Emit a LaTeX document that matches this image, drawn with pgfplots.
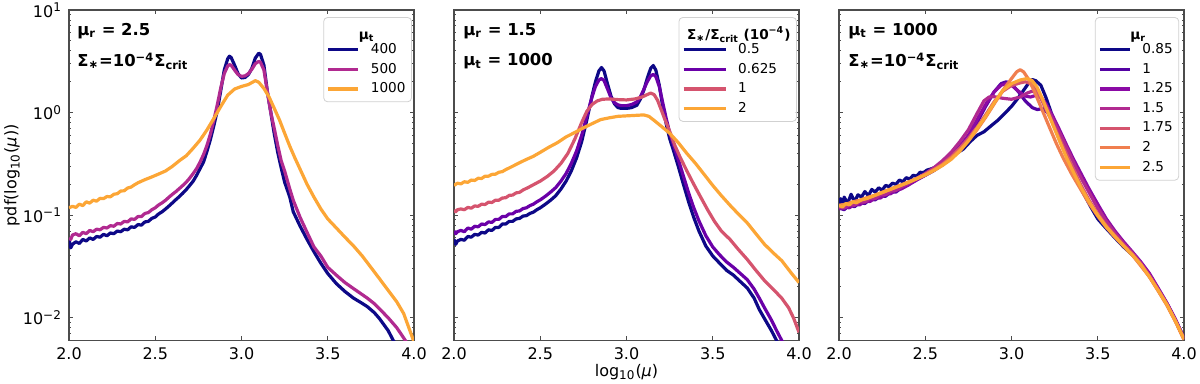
\documentclass[border=0pt]{standalone}
\usepackage{pgfplots}
\pgfplotsset{compat=1.18}
\usetikzlibrary{calc}
\usepackage{fontspec}
\setmainfont{DejaVu Sans}

\definecolor{c0}{HTML}{0D0887}
\definecolor{c500}{HTML}{B12A90}
\definecolor{corange}{HTML}{FCA636}
\definecolor{cpurp}{HTML}{6A00A8}
\definecolor{cpink}{HTML}{D5546E}
\definecolor{p1}{HTML}{5402A3}
\definecolor{p2}{HTML}{8B0AA5}
\definecolor{p3}{HTML}{B12A90}
\definecolor{p4}{HTML}{D5546E}
\definecolor{p5}{HTML}{F07F4F}
\definecolor{p6}{HTML}{FCA636}

\newcommand{\ent}[1]{\hspace*{4pt}#1}

\pgfplotsset{
  pdfpanel/.style={
    scale only axis, width=172.5pt, height=165.3pt,
    xmin=2, xmax=4, ymin=0.00597, ymax=10,
    xtick={2,2.5,3,3.5,4}, xticklabels={2.0,2.5,3.0,3.5,4.0},
    ytick={0.01,0.1,1,10},
    minor ytick={0.006,0.007,0.008,0.009,0.02,0.03,0.04,0.05,0.06,0.07,0.08,0.09,
                 0.2,0.3,0.4,0.5,0.6,0.7,0.8,0.9,2,3,4,5,6,7,8,9},
    tick align=inside, xtick pos=both, ytick pos=both,
    major tick length=2.2pt, minor tick length=1.2pt,
    tick style={black!70, line width=0.5pt},
    axis line style={black!70, line width=0.6pt},
    ticklabel style={font=\fontsize{8}{9}\selectfont},
    label style={font=\fontsize{8}{9}\selectfont},
    no markers,
    every axis plot/.append style={line width=1.6pt, line join=round},
    legend cell align=left,
    legend image code/.code={\draw[##1] (0pt,0pt) -- (15pt,0pt);},
    legend style={anchor=north east, draw=black!18, rounded corners=2pt,
      fill=white, fill opacity=0.8, text opacity=1,
      font=\fontsize{6.8}{8}\selectfont, inner xsep=1.5pt, inner ysep=1.5pt,
      nodes={inner sep=1.5pt, text height=5.2pt, text depth=1.6pt}, row sep=0pt},
  },
  padimg/.style={
    legend image code/.code={\draw[##1] (0pt,0pt) -- (15pt,0pt); \path (-6pt,0pt) -- (15pt,0pt);}},
}
\tikzset{note/.style={anchor=west, inner sep=0pt, font=\fontsize{8.2}{9}\selectfont\bfseries}}

\begin{document}
\begin{tikzpicture}
\useasboundingbox (0,0) rectangle (600pt,192pt);

% ---------- panel 1: mu_t ----------
\begin{semilogyaxis}[pdfpanel, at={(34.5pt,21.65pt)}, anchor=south west,
  yticklabels={10\textsuperscript{−2},10\textsuperscript{−1},10\textsuperscript{0},10\textsuperscript{1}},
  ylabel={pdf(log\textsubscript{10}(\textit{μ}))},
  ylabel style={at={($(rel axis cs:0,0.5)+(-28.5pt,0pt)$)}, anchor=center},
  legend style={at={(0.994,0.979)}}]
\addlegendimage{empty legend}
\addlegendentry{\hspace*{-2pt}\raisebox{-3pt}{\textbf{μ\textsubscript{t}}}}
\addplot[c0] coordinates {(2.00,0.058)(2.01,0.048)(2.02,0.052)(2.04,0.055)(2.06,0.053)(2.08,0.058)(2.10,0.056)(2.12,0.060)(2.14,0.058)(2.16,0.062)(2.18,0.061)(2.20,0.065)(2.22,0.063)(2.24,0.067)(2.26,0.066)(2.28,0.070)(2.30,0.069)(2.32,0.073)(2.34,0.072)(2.36,0.077)(2.38,0.076)(2.40,0.081)(2.42,0.080)(2.44,0.086)(2.46,0.087)(2.48,0.093)(2.50,0.096)(2.52,0.103)(2.54,0.108)(2.56,0.115)(2.58,0.123)(2.60,0.132)(2.62,0.142)(2.64,0.152)(2.66,0.164)(2.68,0.178)(2.70,0.195)(2.72,0.215)(2.74,0.245)(2.76,0.285)(2.78,0.33)(2.80,0.42)(2.82,0.55)(2.84,0.75)(2.86,1.05)(2.88,1.65)(2.90,2.6)(2.92,3.35)(2.93,3.55)(2.94,3.45)(2.96,2.9)(2.98,2.4)(3.00,2.18)(3.02,2.2)(3.04,2.35)(3.06,2.7)(3.08,3.4)(3.10,3.8)(3.11,3.7)(3.13,2.9)(3.15,1.6)(3.17,1.0)(3.19,0.62)(3.21,0.41)(3.23,0.29)(3.25,0.21)(3.28,0.15)(3.30,0.108)(3.34,0.078)(3.38,0.058)(3.42,0.044)(3.46,0.034)(3.50,0.027)(3.55,0.0215)(3.60,0.018)(3.65,0.0155)(3.70,0.0138)(3.73,0.0128)(3.77,0.0112)(3.80,0.0098)(3.85,0.0075)(3.88,0.006)(3.92,0.0048)};
\addlegendentry{\ent{400}}
\addplot[c500] coordinates {(2.00,0.060)(2.01,0.058)(2.02,0.064)(2.04,0.066)(2.06,0.063)(2.08,0.068)(2.10,0.066)(2.12,0.071)(2.14,0.069)(2.16,0.073)(2.18,0.072)(2.20,0.076)(2.22,0.075)(2.24,0.079)(2.26,0.078)(2.28,0.083)(2.30,0.082)(2.32,0.087)(2.34,0.086)(2.36,0.092)(2.38,0.091)(2.40,0.097)(2.42,0.097)(2.44,0.104)(2.46,0.106)(2.48,0.113)(2.50,0.118)(2.52,0.126)(2.54,0.132)(2.56,0.140)(2.58,0.150)(2.60,0.160)(2.62,0.170)(2.64,0.182)(2.66,0.195)(2.68,0.21)(2.70,0.23)(2.72,0.255)(2.74,0.285)(2.76,0.33)(2.78,0.39)(2.80,0.48)(2.82,0.62)(2.84,0.85)(2.86,1.2)(2.88,1.75)(2.90,2.4)(2.92,2.85)(2.93,2.94)(2.94,2.9)(2.96,2.6)(2.98,2.35)(3.00,2.26)(3.02,2.28)(3.04,2.4)(3.06,2.65)(3.08,3.0)(3.10,3.16)(3.11,3.1)(3.13,2.6)(3.15,1.6)(3.17,1.0)(3.19,0.7)(3.21,0.48)(3.23,0.34)(3.25,0.27)(3.28,0.18)(3.30,0.14)(3.34,0.095)(3.38,0.068)(3.42,0.049)(3.46,0.040)(3.50,0.031)(3.55,0.026)(3.60,0.022)(3.65,0.0192)(3.70,0.0168)(3.73,0.0155)(3.77,0.0137)(3.80,0.0122)(3.85,0.0100)(3.90,0.0080)(3.95,0.0060)(3.98,0.005)};
\addlegendentry{\ent{500}}
\addplot[corange] coordinates {(2.00,0.118)(2.02,0.122)(2.04,0.119)(2.06,0.128)(2.08,0.124)(2.10,0.135)(2.12,0.131)(2.14,0.140)(2.16,0.137)(2.18,0.146)(2.20,0.145)(2.22,0.152)(2.24,0.151)(2.26,0.160)(2.28,0.162)(2.30,0.172)(2.32,0.173)(2.34,0.184)(2.36,0.188)(2.38,0.198)(2.40,0.207)(2.44,0.222)(2.48,0.236)(2.52,0.252)(2.56,0.27)(2.60,0.30)(2.64,0.34)(2.68,0.38)(2.72,0.45)(2.76,0.54)(2.80,0.68)(2.84,0.88)(2.88,1.15)(2.92,1.48)(2.96,1.70)(3.00,1.80)(3.04,1.88)(3.08,2.05)(3.10,1.98)(3.13,1.72)(3.16,1.42)(3.19,1.10)(3.22,0.85)(3.25,0.63)(3.28,0.47)(3.31,0.36)(3.34,0.28)(3.38,0.2)(3.42,0.15)(3.46,0.115)(3.50,0.092)(3.55,0.075)(3.60,0.061)(3.65,0.050)(3.70,0.040)(3.75,0.031)(3.80,0.024)(3.85,0.0185)(3.90,0.0143)(3.94,0.011)(3.97,0.008)(4.00,0.0058)};
\addlegendentry{\ent{1000}}
\node[note] at (rel axis cs:0.023,0.937) {μ\textsubscript{r} = 2.5};
\node[note] at (rel axis cs:0.023,0.845) {Σ\textsubscript{∗}=10\textsuperscript{−4}Σ\textsubscript{crit}};
\end{semilogyaxis}

% ---------- panel 2: Sigma ----------
\begin{semilogyaxis}[pdfpanel, padimg, at={(227pt,21.65pt)}, anchor=south west,
  yticklabels={},
  xlabel={log\textsubscript{10}(\textit{μ})},
  xlabel style={at={($(rel axis cs:0.5,0)+(0pt,-15.6pt)$)}, anchor=center},
  legend style={at={(0.994,0.979)}}]
\addlegendimage{empty legend}
\addlegendentry{\hspace*{-21.5pt}\raisebox{-3pt}{\textbf{Σ\textsubscript{∗}/Σ\textsubscript{crit} (10\textsuperscript{−4})}}}
\addplot[c0] coordinates {(2.00,0.058)(2.01,0.052)(2.02,0.056)(2.04,0.058)(2.06,0.057)(2.08,0.062)(2.10,0.061)(2.12,0.065)(2.14,0.064)(2.16,0.068)(2.18,0.067)(2.20,0.072)(2.22,0.071)(2.24,0.076)(2.26,0.076)(2.28,0.082)(2.30,0.082)(2.32,0.087)(2.34,0.087)(2.36,0.092)(2.38,0.093)(2.40,0.098)(2.42,0.099)(2.44,0.104)(2.46,0.107)(2.48,0.113)(2.50,0.118)(2.53,0.128)(2.56,0.140)(2.59,0.155)(2.62,0.18)(2.65,0.215)(2.68,0.27)(2.71,0.36)(2.74,0.52)(2.77,0.85)(2.80,1.45)(2.82,2.0)(2.84,2.55)(2.855,2.75)(2.87,2.55)(2.89,1.9)(2.91,1.45)(2.93,1.22)(2.95,1.12)(2.97,1.1)(3.00,1.1)(3.03,1.12)(3.06,1.18)(3.08,1.35)(3.10,1.65)(3.12,2.15)(3.14,2.7)(3.155,2.88)(3.17,2.6)(3.19,1.85)(3.21,1.15)(3.23,0.78)(3.25,0.56)(3.27,0.44)(3.30,0.30)(3.33,0.20)(3.36,0.135)(3.39,0.095)(3.42,0.070)(3.46,0.050)(3.50,0.040)(3.54,0.034)(3.58,0.029)(3.62,0.026)(3.66,0.0225)(3.70,0.0195)(3.74,0.0155)(3.77,0.012)(3.80,0.0098)(3.84,0.0075)(3.87,0.006)(3.90,0.0049)};
\addlegendentry{\ent{0.5}}
\addplot[cpurp] coordinates {(2.00,0.070)(2.01,0.066)(2.02,0.069)(2.04,0.071)(2.06,0.069)(2.08,0.075)(2.10,0.073)(2.12,0.078)(2.14,0.077)(2.16,0.082)(2.18,0.081)(2.20,0.086)(2.22,0.085)(2.24,0.091)(2.26,0.091)(2.28,0.097)(2.30,0.097)(2.32,0.103)(2.34,0.103)(2.36,0.109)(2.38,0.110)(2.40,0.116)(2.42,0.118)(2.44,0.124)(2.46,0.128)(2.48,0.135)(2.50,0.141)(2.53,0.153)(2.56,0.168)(2.59,0.186)(2.62,0.215)(2.65,0.255)(2.68,0.32)(2.71,0.42)(2.74,0.60)(2.77,0.92)(2.80,1.42)(2.82,1.8)(2.84,2.08)(2.855,2.15)(2.87,2.05)(2.89,1.7)(2.91,1.4)(2.93,1.25)(2.95,1.19)(2.97,1.17)(3.00,1.17)(3.03,1.2)(3.06,1.27)(3.08,1.42)(3.10,1.68)(3.12,2.0)(3.14,2.28)(3.155,2.36)(3.17,2.25)(3.19,1.8)(3.21,1.25)(3.23,0.88)(3.25,0.64)(3.27,0.5)(3.30,0.35)(3.33,0.24)(3.36,0.165)(3.39,0.118)(3.42,0.088)(3.46,0.063)(3.50,0.049)(3.54,0.041)(3.58,0.035)(3.62,0.031)(3.66,0.027)(3.70,0.0235)(3.74,0.019)(3.77,0.0155)(3.80,0.0125)(3.84,0.0095)(3.87,0.0075)(3.90,0.006)(3.93,0.0048)};
\addlegendentry{\ent{0.625}}
\addplot[cpink] coordinates {(2.00,0.112)(2.01,0.108)(2.02,0.113)(2.04,0.115)(2.06,0.113)(2.08,0.119)(2.10,0.117)(2.12,0.123)(2.14,0.122)(2.16,0.128)(2.18,0.127)(2.20,0.134)(2.22,0.133)(2.24,0.140)(2.26,0.140)(2.28,0.147)(2.30,0.148)(2.32,0.156)(2.34,0.157)(2.36,0.165)(2.38,0.167)(2.40,0.176)(2.43,0.186)(2.46,0.198)(2.50,0.215)(2.54,0.238)(2.58,0.27)(2.62,0.32)(2.66,0.40)(2.70,0.55)(2.74,0.80)(2.77,1.03)(2.80,1.2)(2.83,1.30)(2.86,1.35)(2.90,1.36)(2.95,1.34)(3.00,1.33)(3.05,1.36)(3.09,1.42)(3.12,1.50)(3.14,1.55)(3.16,1.50)(3.18,1.32)(3.20,1.08)(3.22,0.88)(3.25,0.66)(3.28,0.48)(3.31,0.37)(3.35,0.27)(3.39,0.20)(3.43,0.15)(3.47,0.113)(3.51,0.087)(3.55,0.07)(3.60,0.058)(3.65,0.046)(3.70,0.037)(3.75,0.029)(3.80,0.023)(3.85,0.019)(3.90,0.0155)(3.94,0.0125)(3.97,0.0098)(4.00,0.0072)};
\addlegendentry{\ent{1}}
\addplot[corange] coordinates {(2.00,0.195)(2.02,0.205)(2.04,0.202)(2.06,0.212)(2.08,0.209)(2.10,0.220)(2.12,0.218)(2.14,0.229)(2.16,0.228)(2.18,0.240)(2.20,0.240)(2.22,0.250)(2.24,0.251)(2.26,0.262)(2.28,0.266)(2.30,0.278)(2.34,0.30)(2.38,0.325)(2.42,0.35)(2.46,0.375)(2.50,0.41)(2.55,0.46)(2.60,0.51)(2.65,0.58)(2.70,0.64)(2.75,0.71)(2.80,0.78)(2.85,0.855)(2.90,0.89)(2.95,0.92)(3.00,0.93)(3.05,0.94)(3.10,0.95)(3.13,0.92)(3.16,0.84)(3.20,0.74)(3.25,0.63)(3.30,0.51)(3.35,0.40)(3.40,0.32)(3.45,0.25)(3.50,0.195)(3.55,0.155)(3.60,0.125)(3.65,0.102)(3.70,0.084)(3.75,0.066)(3.80,0.052)(3.85,0.043)(3.90,0.036)(3.95,0.028)(4.00,0.022)};
\addlegendentry{\ent{2}}
\node[note] at (rel axis cs:0.026,0.937) {μ\textsubscript{r} = 1.5};
\node[note] at (rel axis cs:0.026,0.845) {μ\textsubscript{t} = 1000};
\end{semilogyaxis}

% ---------- panel 3: mu_r ----------
\begin{semilogyaxis}[pdfpanel, at={(419.5pt,21.65pt)}, anchor=south west,
  yticklabels={},
  legend style={at={(0.986,0.979)}}]
\addlegendimage{empty legend}
\addlegendentry{\hspace*{-2pt}\raisebox{-3pt}{\textbf{μ\textsubscript{r}}}}
\addplot[c0] coordinates {(2.00,0.13)(2.01,0.145)(2.02,0.118)(2.03,0.15)(2.05,0.13)(2.07,0.16)(2.09,0.135)(2.11,0.158)(2.13,0.15)(2.15,0.17)(2.17,0.155)(2.19,0.178)(2.21,0.168)(2.23,0.185)(2.25,0.175)(2.27,0.195)(2.29,0.19)(2.31,0.205)(2.33,0.2)(2.35,0.22)(2.37,0.212)(2.39,0.232)(2.41,0.225)(2.43,0.245)(2.45,0.24)(2.47,0.262)(2.49,0.26)(2.51,0.275)(2.54,0.285)(2.57,0.30)(2.60,0.32)(2.64,0.36)(2.68,0.40)(2.72,0.44)(2.76,0.52)(2.80,0.60)(2.84,0.65)(2.88,0.74)(2.92,0.84)(2.96,0.98)(3.00,1.15)(3.04,1.40)(3.07,1.65)(3.10,1.95)(3.12,2.1)(3.14,2.05)(3.17,1.85)(3.20,1.4)(3.23,1.0)(3.26,0.72)(3.30,0.47)(3.34,0.31)(3.38,0.22)(3.42,0.16)(3.46,0.12)(3.50,0.092)(3.55,0.074)(3.60,0.060)(3.65,0.049)(3.70,0.041)(3.75,0.033)(3.80,0.026)(3.85,0.019)(3.90,0.0138)(3.95,0.0095)(4.00,0.0064)};
\addlegendentry{\ent{0.85}}
\addplot[p1] coordinates {(2.00,0.118)(2.03,0.113)(2.06,0.126)(2.09,0.121)(2.12,0.133)(2.15,0.130)(2.18,0.143)(2.21,0.141)(2.24,0.154)(2.27,0.153)(2.30,0.168)(2.33,0.168)(2.36,0.184)(2.40,0.197)(2.45,0.222)(2.50,0.245)(2.55,0.272)(2.60,0.31)(2.65,0.37)(2.70,0.45)(2.75,0.58)(2.80,0.8)(2.85,1.15)(2.90,1.6)(2.94,1.92)(2.97,2.0)(3.00,1.9)(3.04,1.6)(3.08,1.3)(3.12,1.12)(3.15,1.07)(3.18,1.1)(3.21,1.0)(3.25,0.8)(3.29,0.59)(3.33,0.43)(3.37,0.31)(3.41,0.23)(3.46,0.163)(3.50,0.122)(3.55,0.088)(3.60,0.068)(3.65,0.054)(3.70,0.043)(3.75,0.034)(3.80,0.026)(3.85,0.019)(3.90,0.0138)(3.95,0.0095)(4.00,0.0062)};
\addlegendentry{\ent{1}}
\addplot[p2] coordinates {(2.00,0.115)(2.03,0.120)(2.06,0.118)(2.09,0.128)(2.12,0.126)(2.15,0.137)(2.18,0.136)(2.21,0.148)(2.24,0.147)(2.27,0.160)(2.30,0.162)(2.33,0.176)(2.36,0.180)(2.40,0.196)(2.45,0.22)(2.50,0.245)(2.55,0.275)(2.60,0.315)(2.65,0.38)(2.70,0.47)(2.75,0.6)(2.80,0.85)(2.85,1.2)(2.90,1.6)(2.94,1.85)(2.97,1.92)(3.00,1.85)(3.04,1.62)(3.08,1.45)(3.11,1.42)(3.14,1.47)(3.17,1.42)(3.20,1.22)(3.24,0.92)(3.28,0.67)(3.32,0.48)(3.36,0.35)(3.40,0.26)(3.45,0.18)(3.50,0.128)(3.55,0.092)(3.60,0.07)(3.65,0.055)(3.70,0.044)(3.75,0.035)(3.80,0.027)(3.85,0.0195)(3.90,0.014)(3.95,0.0097)(4.00,0.0063)};
\addlegendentry{\ent{1.25}}
\addplot[p3] coordinates {(2.00,0.12)(2.03,0.117)(2.06,0.127)(2.09,0.125)(2.12,0.135)(2.15,0.134)(2.18,0.146)(2.21,0.145)(2.24,0.158)(2.27,0.158)(2.30,0.172)(2.33,0.174)(2.36,0.188)(2.40,0.203)(2.45,0.228)(2.50,0.255)(2.55,0.29)(2.60,0.34)(2.65,0.41)(2.70,0.52)(2.75,0.68)(2.80,0.98)(2.84,1.3)(2.87,1.42)(2.90,1.43)(2.95,1.38)(3.00,1.35)(3.05,1.42)(3.09,1.55)(3.12,1.62)(3.15,1.55)(3.18,1.35)(3.21,1.08)(3.25,0.8)(3.29,0.58)(3.33,0.42)(3.37,0.3)(3.41,0.22)(3.46,0.155)(3.50,0.117)(3.55,0.087)(3.60,0.067)(3.65,0.053)(3.70,0.043)(3.75,0.034)(3.80,0.026)(3.85,0.019)(3.90,0.0138)(3.95,0.0095)(4.00,0.0062)};
\addlegendentry{\ent{1.5}}
\addplot[p4] coordinates {(2.00,0.122)(2.04,0.127)(2.08,0.133)(2.12,0.139)(2.16,0.146)(2.20,0.154)(2.25,0.166)(2.30,0.179)(2.35,0.193)(2.40,0.209)(2.45,0.228)(2.50,0.25)(2.55,0.278)(2.60,0.315)(2.65,0.37)(2.70,0.45)(2.75,0.56)(2.80,0.72)(2.85,0.95)(2.90,1.28)(2.95,1.62)(3.00,1.84)(3.05,1.95)(3.08,2.0)(3.11,1.92)(3.14,1.7)(3.17,1.38)(3.20,1.08)(3.24,0.78)(3.28,0.55)(3.32,0.39)(3.36,0.28)(3.40,0.2)(3.45,0.14)(3.50,0.103)(3.55,0.079)(3.60,0.063)(3.65,0.051)(3.70,0.042)(3.75,0.033)(3.80,0.025)(3.85,0.0185)(3.90,0.0135)(3.95,0.0093)(4.00,0.0062)};
\addlegendentry{\ent{1.75}}
\addplot[p5] coordinates {(2.00,0.125)(2.04,0.128)(2.08,0.135)(2.12,0.140)(2.16,0.148)(2.20,0.155)(2.25,0.167)(2.30,0.180)(2.35,0.194)(2.40,0.210)(2.45,0.228)(2.50,0.25)(2.55,0.277)(2.60,0.31)(2.65,0.36)(2.70,0.43)(2.75,0.53)(2.80,0.68)(2.85,0.9)(2.90,1.22)(2.95,1.65)(3.00,2.15)(3.03,2.5)(3.05,2.62)(3.07,2.5)(3.10,2.1)(3.13,1.65)(3.16,1.25)(3.19,0.95)(3.22,0.72)(3.26,0.5)(3.30,0.36)(3.35,0.25)(3.40,0.18)(3.45,0.13)(3.50,0.098)(3.55,0.076)(3.60,0.061)(3.65,0.05)(3.70,0.041)(3.75,0.032)(3.80,0.025)(3.85,0.0183)(3.90,0.0133)(3.95,0.0092)(4.00,0.0061)};
\addlegendentry{\ent{2}}
\addplot[p6] coordinates {(2.00,0.125)(2.02,0.12)(2.04,0.13)(2.06,0.126)(2.08,0.135)(2.10,0.132)(2.13,0.141)(2.16,0.145)(2.20,0.154)(2.25,0.166)(2.30,0.179)(2.35,0.193)(2.40,0.208)(2.45,0.226)(2.50,0.246)(2.55,0.272)(2.60,0.305)(2.65,0.35)(2.70,0.42)(2.75,0.53)(2.80,0.70)(2.85,0.92)(2.90,1.25)(2.95,1.65)(3.00,1.92)(3.05,2.08)(3.09,2.15)(3.12,2.05)(3.15,1.75)(3.18,1.35)(3.21,1.02)(3.24,0.76)(3.28,0.52)(3.32,0.36)(3.36,0.26)(3.40,0.19)(3.45,0.135)(3.50,0.10)(3.55,0.077)(3.60,0.062)(3.65,0.05)(3.70,0.041)(3.75,0.033)(3.80,0.025)(3.85,0.0185)(3.90,0.0135)(3.95,0.0093)(4.00,0.0062)};
\addlegendentry{\ent{2.5}}
\node[note] at (rel axis cs:0.026,0.937) {μ\textsubscript{t} = 1000};
\node[note] at (rel axis cs:0.026,0.845) {Σ\textsubscript{∗}=10\textsuperscript{−4}Σ\textsubscript{crit}};
\end{semilogyaxis}
\end{tikzpicture}
\end{document}
